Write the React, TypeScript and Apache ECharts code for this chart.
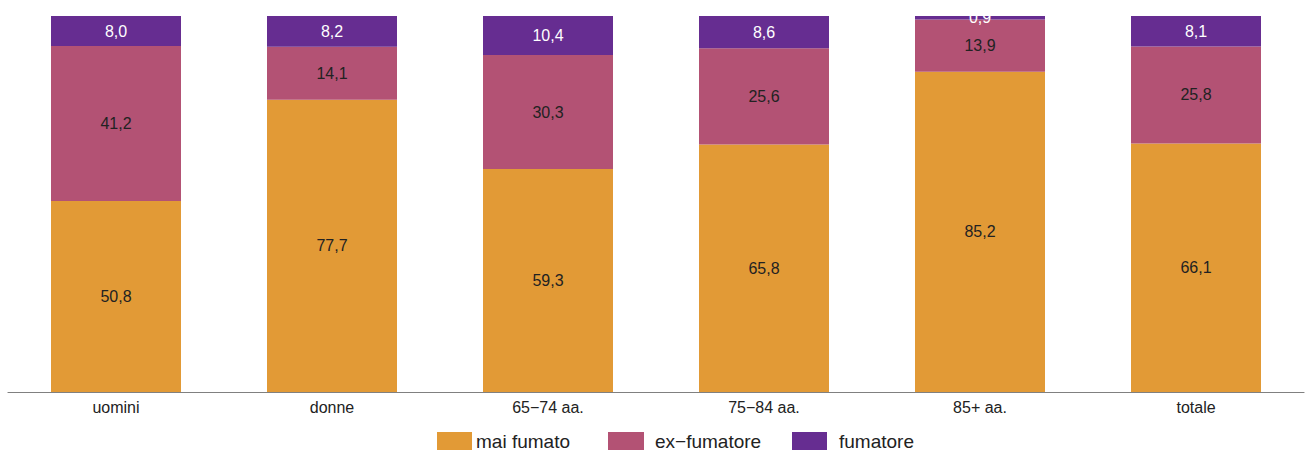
import React, { useEffect, useRef } from "react";
import * as echarts from "echarts";

// Smoking status by sex and age group (%)
const categories = ["uomini", "donne", "65\u221274 aa.", "75\u221284 aa.", "85+ aa.", "totale"];
const maiFumato = [50.8, 77.7, 59.3, 65.8, 85.2, 66.1];
const exFumatore = [41.2, 14.1, 30.3, 25.6, 13.9, 25.8];
const fumatore = [8.0, 8.2, 10.4, 8.6, 0.9, 8.1];

const seriesNames = ["mai fumato", "ex\u2212fumatore", "fumatore"];
const colors = ["#E29A36", "#B35274", "#662D91"];
const labelColors = ["#222222", "#222222", "#ffffff"];

const FONT = "'Liberation Sans', Arial, Helvetica, sans-serif";

const fmt = (v: number) => v.toFixed(1).replace(".", ",");

export default function App() {
  const ref = useRef<HTMLDivElement>(null);

  useEffect(() => {
    if (!ref.current) return;
    const chart = echarts.init(ref.current, undefined, { renderer: "svg" });
    const data = [maiFumato, exFumatore, fumatore];

    // Legend drawn manually for precise placement
    const legendItems = [
      { rx: 437, rw: 35, tx: 476 },
      { rx: 608, rw: 36, tx: 655 },
      { rx: 792, rw: 35, tx: 839 },
    ];
    const legendGraphics: any[] = [];
    legendItems.forEach((it, i) => {
      legendGraphics.push({
        type: "rect",
        shape: { x: it.rx, y: 432, width: it.rw, height: 18 },
        style: { fill: colors[i] },
      });
      legendGraphics.push({
        type: "text",
        x: it.tx,
        y: 441,
        style: {
          text: seriesNames[i],
          fill: "#222222",
          font: `19px ${FONT}`,
          textVerticalAlign: "middle",
          verticalAlign: "middle",
        },
      });
    });

    chart.setOption({
      animation: false,
      backgroundColor: "#ffffff",
      textStyle: { fontFamily: FONT },
      grid: { left: 8, right: 3, top: 16, bottom: 59, containLabel: false },
      xAxis: {
        type: "category",
        data: categories,
        axisLine: { show: true, lineStyle: { color: "#808080", width: 1.2 } },
        axisTick: { show: false },
        axisLabel: { color: "#222222", fontSize: 16, margin: 7, fontFamily: FONT },
      },
      yAxis: {
        type: "value",
        min: 0,
        max: 100,
        show: false,
        splitLine: { show: false },
      },
      series: data.map((vals, i) => ({
        name: seriesNames[i],
        type: "bar",
        stack: "total",
        barWidth: 130,
        data: vals,
        itemStyle: { color: colors[i] },
        label: {
          show: true,
          position: "inside",
          color: labelColors[i],
          fontSize: 16,
          fontFamily: FONT,
          formatter: (p: any) => fmt(p.value),
        },
      })),
      graphic: legendGraphics,
    });

    return () => chart.dispose();
  }, []);

  return (
    <div
      ref={ref}
      style={{ position: "absolute", left: 0, top: 0, width: 1307, height: 451 }}
    />
  );
}
